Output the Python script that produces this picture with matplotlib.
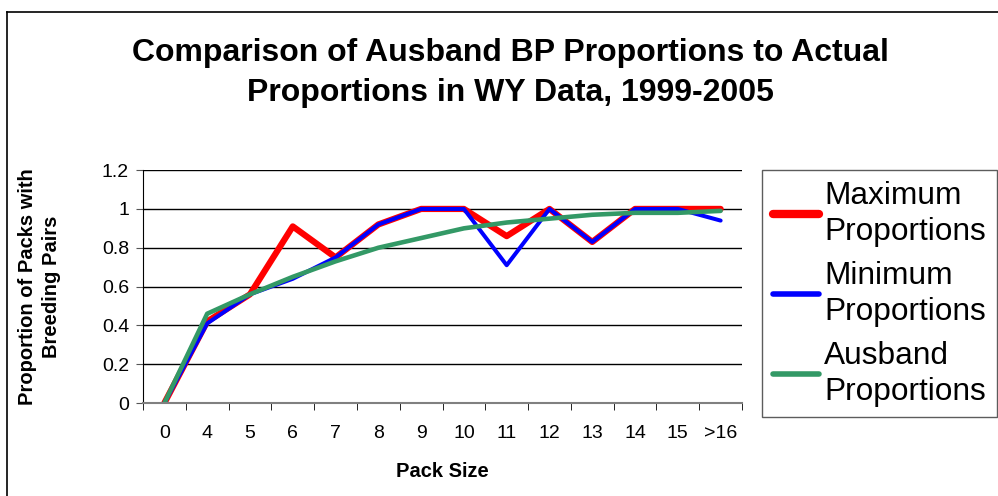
import numpy as np
import matplotlib.pyplot as plt
from matplotlib.lines import Line2D

plt.rcParams['font.family'] = ['Liberation Sans', 'DejaVu Sans']

# Data
pack_sizes = ['0', '4', '5', '6', '7', '8', '9', '10', '11', '12', '13', '14', '15', '>16']
max_prop = [0.0, 0.42, 0.56, 0.91, 0.75, 0.92, 1.0, 1.0, 0.86, 1.0, 0.83, 1.0, 1.0, 1.0]
min_prop = [0.0, 0.41, 0.56, 0.64, 0.75, 0.92, 1.0, 1.0, 0.71, 1.0, 0.83, 1.0, 1.0, 0.94]
ausband_prop = [0.0, 0.46, 0.56, 0.65, 0.73, 0.80, 0.85, 0.90, 0.93, 0.95, 0.97, 0.98, 0.98, 0.99]

x = np.arange(len(pack_sizes))

fig = plt.figure(figsize=(9.98, 4.96), dpi=100)
ax = fig.add_axes([0.1433, 0.1875, 0.6002, 0.4695])

ax.plot(x, max_prop, color='#ff0000', linewidth=4.5, solid_capstyle='round', label='Maximum\nProportions')
ax.plot(x, min_prop, color='#0000ff', linewidth=2.9, solid_capstyle='round', label='Minimum\nProportions')
ax.plot(x, ausband_prop, color='#339966', linewidth=3.3, solid_capstyle='round', label='Ausband\nProportions')

# Axes and grid
ax.set_xlim(-0.5, len(pack_sizes) - 0.5)
ax.set_ylim(0, 1.2)
ax.set_yticks(np.arange(0, 1.21, 0.2))
ax.set_yticklabels(['0', '0.2', '0.4', '0.6', '0.8', '1', '1.2'], fontsize=14)
ax.set_xticks(x)
ax.set_xticklabels(pack_sizes, fontsize=14)
ax.set_xticks(np.arange(-0.5, len(pack_sizes), 1), minor=True)
ax.tick_params(axis='x', which='major', length=0, pad=16)
ax.tick_params(axis='x', which='minor', length=5, direction='out', color='black')
ax.tick_params(axis='y', length=5, pad=5, direction='out', color='#555555')
ax.yaxis.grid(True, color='black', linewidth=1.0)
ax.set_axisbelow(True)
for side in ['top', 'right']:
    ax.spines[side].set_visible(False)
ax.spines['left'].set_color('black')
ax.spines['bottom'].set_color('#808080')
ax.spines['bottom'].set_linewidth(1.5)

ax.set_xlabel('Pack Size', fontsize=14.5, fontweight='bold')
ax.xaxis.set_label_coords(0.5, -0.255)
ax.set_ylabel('Proportion of Packs with\nBreeding Pairs', fontsize=14.5, fontweight='bold', linespacing=1.3)
ax.yaxis.set_label_coords(-0.137, 0.5)

fig.text(0.511, 0.853, 'Comparison of Ausband BP Proportions to Actual\nProportions in WY Data, 1999-2005',
         ha='center', va='center', fontsize=23, fontweight='bold', linespacing=1.44)

leg = ax.legend(loc='upper left', bbox_to_anchor=(1.0334, 1.0), fontsize=22.8, frameon=True,
                fancybox=False, edgecolor='#333333', handlelength=1.45, handletextpad=0.18,
                labelspacing=0.45, borderpad=0.34, borderaxespad=0)
leg.get_frame().set_linewidth(1.0)
for t in leg.get_texts():
    t.set_linespacing(1.25)
for h, w in zip(leg.get_lines(), [6, 4, 4]):
    h.set_linewidth(w)
    h.set_solid_capstyle('round')

# Partial outer frame (top and left edges)
fig.add_artist(Line2D([0.007, 1.0], [0.976, 0.976], transform=fig.transFigure, color='black', linewidth=1.2))
fig.add_artist(Line2D([0.007, 0.007], [0.0, 0.976], transform=fig.transFigure, color='black', linewidth=1.2))

fig.savefig('out.png', dpi=100)
